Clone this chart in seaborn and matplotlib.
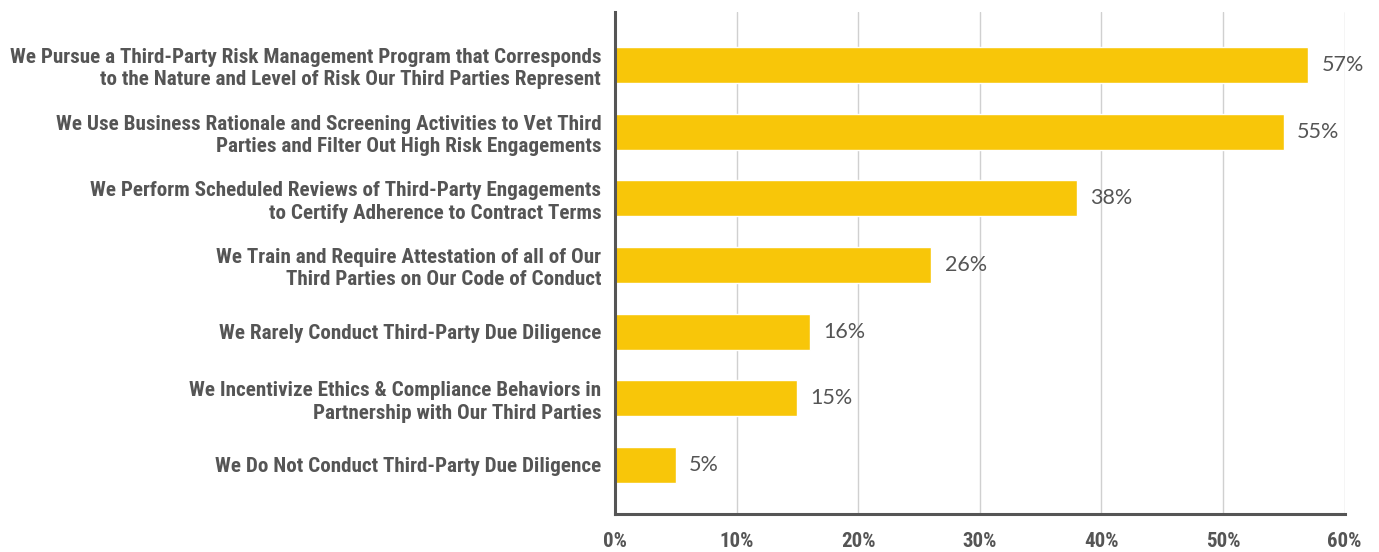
import matplotlib
matplotlib.use("Agg")
import matplotlib.pyplot as plt
import seaborn as sns
import pandas as pd
from matplotlib import font_manager

categories = [
    "We Pursue a Third-Party Risk Management Program that Corresponds\nto the Nature and Level of Risk Our Third Parties Represent",
    "We Use Business Rationale and Screening Activities to Vet Third\nParties and Filter Out High Risk Engagements",
    "We Perform Scheduled Reviews of Third-Party Engagements\nto Certify Adherence to Contract Terms",
    "We Train and Require Attestation of all of Our\nThird Parties on Our Code of Conduct",
    "We Rarely Conduct Third-Party Due Diligence",
    "We Incentivize Ethics & Compliance Behaviors in\nPartnership with Our Third Parties",
    "We Do Not Conduct Third-Party Due Diligence",
]
values = [57, 55, 38, 26, 16, 15, 5]
tick_values = [0, 10, 20, 30, 40, 50, 60]
tick_labels = ["0%", "10%", "20%", "30%", "40%", "50%", "60%"]

df = pd.DataFrame({"category": categories, "value": values})

sns.set_theme(style="white")
names = {f.name for f in font_manager.fontManager.ttflist}
narrow = next((n for n in ["Roboto Condensed", "Archivo Narrow", "Fira Sans Condensed",
                           "PT Sans Narrow", "Liberation Sans Narrow"] if n in names),
              "DejaVu Sans")
plt.rcParams["font.family"] = ["Lato", "DejaVu Sans"]

BAR = "#F8C609"
TEXT = "#555555"

fig = plt.figure(figsize=(13.79, 5.52), dpi=100)
ax = fig.add_axes([0.446, 0.069, 0.529, 0.909])

sns.barplot(data=df, x="value", y="category", color=BAR, width=0.54,
            saturation=1, ax=ax, zorder=3)

ax.set_xlim(0, 60)
ax.set_ylim(6.735, -0.795)
ax.set_xticks(tick_values)
ax.set_xticklabels(tick_labels, family=narrow, fontweight="bold",
                   fontsize=15, color=TEXT)
ax.tick_params(axis="x", length=0, pad=13)
ax.tick_params(axis="y", length=0, pad=10)
for lbl in ax.get_yticklabels():
    lbl.set_family(narrow)
    lbl.set_fontweight("bold")
    lbl.set_fontsize(15.2)
    lbl.set_color(TEXT)
    lbl.set_linespacing(1.22)
ax.set_xlabel("")
ax.set_ylabel("")

ax.grid(axis="x", color="#d0d0d0", linewidth=1, zorder=0)
ax.grid(axis="y", visible=False)
for side in ["top", "right"]:
    ax.spines[side].set_visible(False)
for side in ["left", "bottom"]:
    ax.spines[side].set_color("#555555")
    ax.spines[side].set_linewidth(2.2)
    ax.spines[side].set_zorder(4)

for i, v in enumerate(values):
    ax.text(v + 1.1, i, f"{v}%", va="center", ha="left",
            fontsize=15.5, color=TEXT, zorder=5)

fig.savefig("out.png", dpi=100)
